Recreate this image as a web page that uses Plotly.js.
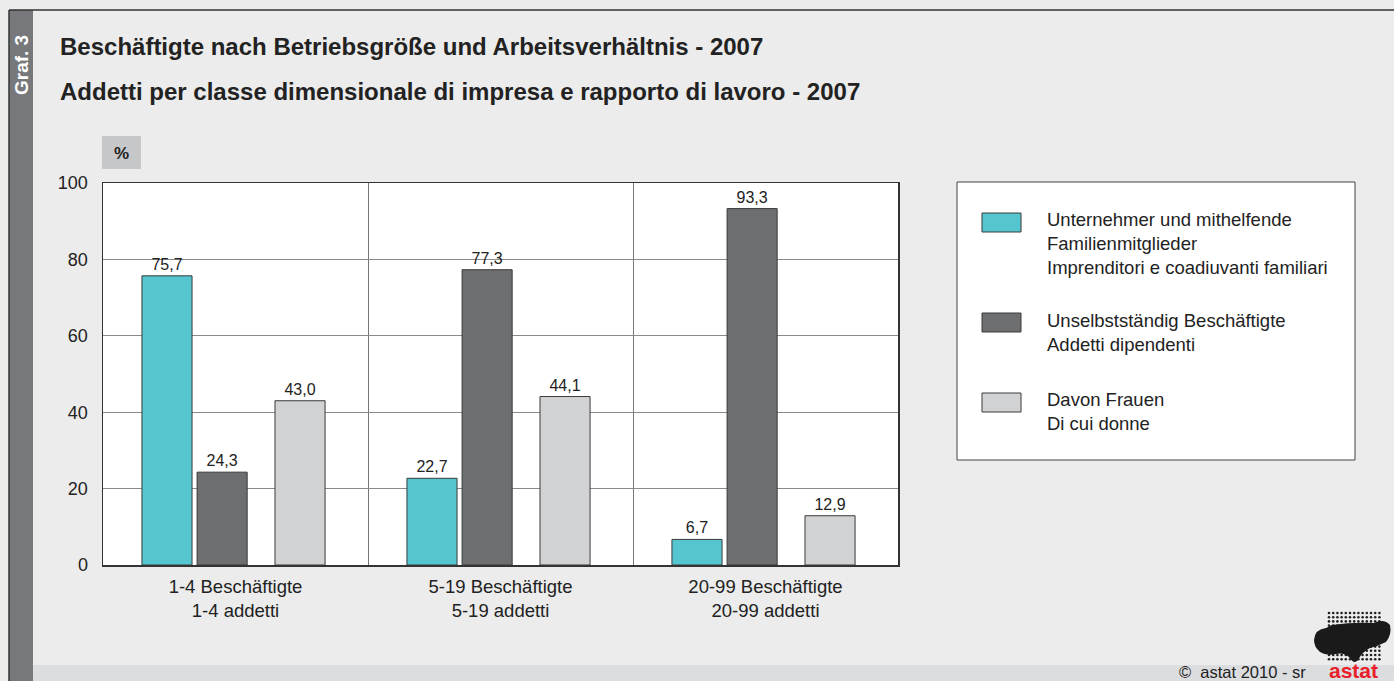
<!DOCTYPE html>
<html>
<head>
<meta charset="utf-8">
<script src="https://cdn.plot.ly/plotly-3.0.1.min.js"></script>
<style>
html,body{margin:0;padding:0;background:#ebeceb;}
#chart{width:1394px;height:681px;}
</style>
</head>
<body>
<div id="chart"></div>
<script>
// ---- data ----
const categories = ["1-4 Beschäftigte<br>1-4 addetti", "5-19 Beschäftigte<br>5-19 addetti", "20-99 Beschäftigte<br>20-99 addetti"];
const seriesNames = [
  "Unternehmer und mithelfende<br>Familienmitglieder<br>Imprenditori e coadiuvanti familiari",
  "Unselbstständig Beschäftigte<br>Addetti dipendenti",
  "Davon Frauen<br>Di cui donne"
];
const unternehmer = [75.7, 22.7, 6.7];
const unselbst = [24.3, 77.3, 93.3];
const frauen = [43.0, 44.1, 12.9];
const seriesValues = [unternehmer, unselbst, frauen];
const seriesColors = ["#55c5d0", "#6d6e70", "#d1d2d4"];
const yTicks = [0, 20, 40, 60, 80, 100];
const titleDe = "Beschäftigte nach Betriebsgröße und Arbeitsverhältnis - 2007";
const titleIt = "Addetti per classe dimensionale di impresa e rapporto di lavoro - 2007";

// ---- layout helpers ----
const offsets = [-0.353, -0.145, 0.149];
const barWidth = 0.189;
const fmt = v => v.toFixed(1).replace('.', ',');
const FONT = "Arial";
const W = 795, H = 382, L = 103, B = 565;
const px = x => (x - L) / W;
const py = y => (B - y) / H;

const traces = seriesValues.map((vals, i) => ({
  type: "bar",
  x: categories,
  y: vals,
  name: seriesNames[i].replace(/<br>/g, " "),
  offset: offsets[i],
  width: barWidth,
  marker: {color: seriesColors[i], line: {color: "#3a3a3a", width: 1}},
  text: vals.map(fmt),
  textposition: "outside",
  cliponaxis: false,
  textfont: {family: FONT, size: 16, color: "#222"},
  showlegend: false,
  hoverinfo: "x+y"
}));

// small logo (dotted map) as inline svg, local coords = page px minus (1312, 610)
let dots = "";
for (let r = 0; r < 12; r++) {
  for (let c = 0; c < 13; c++) {
    dots += `<circle cx="${17 + c * 4.2}" cy="${3 + r * 4.2}" r="1.3" fill="#222"/>`;
  }
}
const blob = "M2,30 Q3,19 14,18 L20,15 Q40,12 62,13 Q72,8 78,15 Q80,25 74,32 Q66,36 58,38 Q50,42 46,50 Q42,55 38,48 Q32,42 24,44 Q14,46 8,42 Q2,37 2,30 Z";
const logoSvg = `<svg xmlns="http://www.w3.org/2000/svg" width="80" height="55" viewBox="0 0 80 55">${dots}<path d="${blob}" fill="#1a1a1a"/></svg>`;
const logoUri = "data:image/svg+xml;base64," + btoa(logoSvg);

const shapes = [
  // left gray strip
  {type: "rect", xref: "paper", yref: "paper", x0: px(9), x1: px(33), y0: py(681), y1: py(10), fillcolor: "#77787b", line: {width: 0}, layer: "below"},
  // bottom strip
  {type: "rect", xref: "paper", yref: "paper", x0: px(33), x1: px(1394), y0: py(681), y1: py(665), fillcolor: "#dcdddf", line: {width: 0}, layer: "below"},
  // outer border top & left
  {type: "line", xref: "paper", yref: "paper", x0: px(9), x1: px(1394), y0: py(10), y1: py(10), line: {color: "#333", width: 1.5}},
  {type: "line", xref: "paper", yref: "paper", x0: px(9), x1: px(9), y0: py(10), y1: py(681), line: {color: "#333", width: 1.5}},
  // % box
  {type: "rect", xref: "paper", yref: "paper", x0: px(102), x1: px(141), y0: py(169), y1: py(136), fillcolor: "#c6c7c9", line: {width: 0}},
  // legend box
  {type: "rect", xref: "paper", yref: "paper", x0: px(957), x1: px(1355), y0: py(460), y1: py(182), fillcolor: "#ffffff", line: {color: "#444", width: 1}}
];

const annotations = [
  {xref: "paper", yref: "paper", x: px(58), y: py(46), xanchor: "left", yanchor: "middle", showarrow: false, text: "<b>" + titleDe + "</b>", font: {family: FONT, size: 24, color: "#222"}},
  {xref: "paper", yref: "paper", x: px(58), y: py(91), xanchor: "left", yanchor: "middle", showarrow: false, text: "<b>" + titleIt + "</b>", font: {family: FONT, size: 24, color: "#222"}},
  {xref: "paper", yref: "paper", x: px(121.5), y: py(154), xanchor: "center", yanchor: "middle", showarrow: false, text: "<b>%</b>", font: {family: FONT, size: 17, color: "#222"}},
  {xref: "paper", yref: "paper", x: px(21), y: py(65), xanchor: "center", yanchor: "middle", showarrow: false, textangle: -90, text: "<b>Graf. 3</b>", font: {family: FONT, size: 19, color: "#ffffff"}},
  {xref: "paper", yref: "paper", x: px(1308), y: py(672), xanchor: "right", yanchor: "middle", showarrow: false, text: "©  astat 2010 - sr", font: {family: FONT, size: 16.5, color: "#222"}},
  {xref: "paper", yref: "paper", x: px(1353), y: py(670), xanchor: "center", yanchor: "middle", showarrow: false, text: "<b>astat</b>", font: {family: FONT, size: 21, color: "#e8202a"}}
];

// legend (manual)
const swatchTops = [213, 313, 393];
const textCenters = [243.5, 332.5, 411];
seriesNames.forEach((n, i) => {
  const top = swatchTops[i];
  shapes.push({type: "rect", xref: "paper", yref: "paper", x0: px(982), x1: px(1021), y0: py(top + 19), y1: py(top), fillcolor: seriesColors[i], line: {color: "#3a3a3a", width: 1}});
  annotations.push({xref: "paper", yref: "paper", x: px(1045), y: py(textCenters[i]), xanchor: "left", yanchor: "middle", align: "left", showarrow: false, text: n, font: {family: FONT, size: 18.5, color: "#222"}});
});

const layout = {
  width: 1394, height: 681,
  margin: {l: L, r: 1394 - L - W, t: 183, b: 681 - B, pad: 0},
  paper_bgcolor: "#ebeceb",
  plot_bgcolor: "#ffffff",
  barmode: "overlay",
  font: {family: FONT, color: "#222"},
  xaxis: {
    type: "category",
    range: [-0.5, 2.5],
    tickson: "boundaries",
    showgrid: true, gridcolor: "#777", gridwidth: 1,
    ticks: "", showline: true, linecolor: "#333", linewidth: 1.5, mirror: true,
    ticklabelstandoff: 4,
    tickfont: {family: FONT, size: 18.5, color: "#222"},
    fixedrange: true
  },
  yaxis: {
    range: [0, 100],
    tickvals: yTicks,
    showgrid: true, gridcolor: "#8a8a8a", gridwidth: 1,
    zeroline: false,
    showline: true, linecolor: "#333", linewidth: 1.5, mirror: true,
    ticks: "outside", ticklen: 10, tickcolor: "rgba(0,0,0,0)",
    tickfont: {family: FONT, size: 18, color: "#222"},
    fixedrange: true
  },
  images: [{source: logoUri, xref: "paper", yref: "paper", x: px(1312), y: py(610), sizex: 80 / W, sizey: 55 / H, xanchor: "left", yanchor: "top", sizing: "stretch", layer: "above"}],
  shapes: shapes,
  annotations: annotations
};

Plotly.newPlot("chart", traces, layout, {displayModeBar: false, staticPlot: true});
</script>
</body>
</html>
